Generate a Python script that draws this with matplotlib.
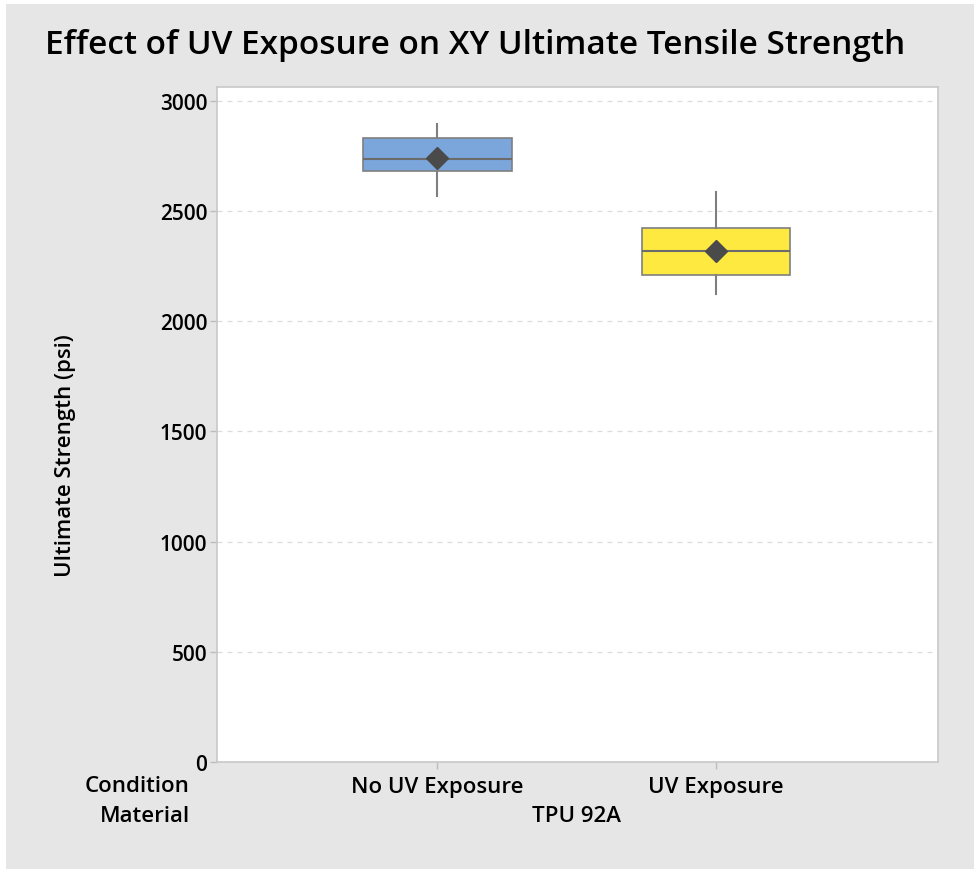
import matplotlib.pyplot as plt
from matplotlib.patches import Rectangle

conditions = ["No UV Exposure", "UV Exposure"]
material = "TPU 92A"
q1 = [2682, 2212]
median = [2737, 2318]
q3 = [2831, 2425]
whisker_lo = [2570, 2124]
whisker_hi = [2896, 2586]
means = [2741, 2321]
colors = ["#7aa6dc", "#fde93f"]
yticks = [0, 500, 1000, 1500, 2000, 2500, 3000]

plt.rcParams["font.family"] = ["Open Sans", "DejaVu Sans"]

fig = plt.figure(figsize=(9.74, 8.7), dpi=100)
fig.patch.set_facecolor("white")
fig.patches.append(Rectangle((6 / 974, 0), 1, 1 - 5 / 870, transform=fig.transFigure,
                             facecolor="#e6e6e6", edgecolor="none", zorder=-10))

ax = fig.add_axes([217 / 974, 1 - 763 / 870, 721 / 974, 675 / 870])
ax.set_facecolor("white")

stats = []
for i in range(len(conditions)):
    stats.append({"med": median[i], "q1": q1[i], "q3": q3[i],
                  "whislo": whisker_lo[i], "whishi": whisker_hi[i],
                  "mean": means[i], "fliers": []})

pos = [1, 2]
bp = ax.bxp(stats, positions=pos, widths=0.534, patch_artist=True, showmeans=True,
            showcaps=False,
            boxprops=dict(edgecolor="#7f7f7f", linewidth=1.2),
            medianprops=dict(color="#6b6b6b", linewidth=1.5),
            whiskerprops=dict(color="#7f7f7f", linewidth=1.5),
            meanprops=dict(marker="D", markerfacecolor="#4a4a4a", markeredgecolor="#4a4a4a",
                           markersize=11))
for patch, c in zip(bp["boxes"], colors):
    patch.set_facecolor(c)
for line in bp["means"]:
    line.set_zorder(5)

ax.set_xlim(0.211, 2.796)
ax.set_ylim(0, 3063)
ax.set_yticks(yticks)
ax.set_yticklabels([str(v) for v in yticks], fontsize=15, fontweight="semibold")
ax.yaxis.grid(True, linestyle=(0, (4, 4)), color="#dcdcdc", linewidth=0.9)
ax.set_axisbelow(True)
ax.set_xticks(pos)
ax.set_xticklabels([])
ax.tick_params(axis="both", color="#bdbdbd", length=5, width=1, pad=2)
for s in ax.spines.values():
    s.set_color("#c8c8c8")
    s.set_linewidth(1.2)

ax.set_ylabel("Ultimate Strength (psi)", fontsize=16, fontweight="semibold")
ax.yaxis.set_label_coords(-0.196, 0.456)

for p, name in zip(pos, conditions):
    ax.text(p, -0.02, name, transform=ax.get_xaxis_transform(), ha="center", va="top",
            fontsize=16, fontweight="semibold")
ax.text(1.5, -0.064, material, transform=ax.get_xaxis_transform(), ha="center", va="top",
        fontsize=16, fontweight="semibold")
fig.text(190 / 974, 1 - 787 / 870, "Condition", ha="right", va="center",
         fontsize=16, fontweight="semibold")
fig.text(190 / 974, 1 - 817 / 870, "Material", ha="right", va="center",
         fontsize=16, fontweight="semibold")

fig.text(45 / 974, 1 - 45 / 870, "Effect of UV Exposure on XY Ultimate Tensile Strength",
         ha="left", va="center", fontsize=24, fontweight="semibold")

fig.savefig("out.png", dpi=100, facecolor=fig.get_facecolor())
